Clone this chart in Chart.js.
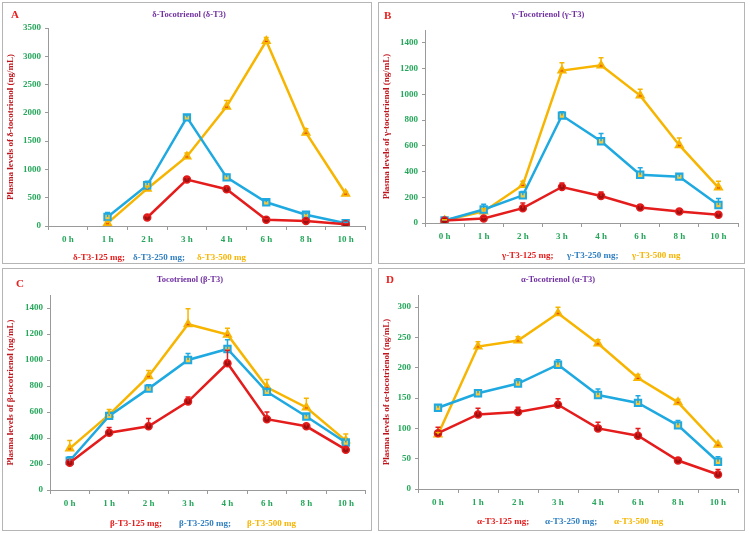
<!DOCTYPE html>
<html>
<head>
<meta charset="utf-8">
<script src="https://cdn.jsdelivr.net/npm/chart.js@4.4.0/dist/chart.umd.min.js"></script>
<style>
  body { margin: 0; background: #fff; }
  #wrap { position: relative; width: 750px; height: 533px; overflow: hidden; font-family: "Liberation Serif", "Times New Roman", serif; font-weight: bold; }
  .panel { position: absolute; border: 1px solid #b5b5b5; box-sizing: border-box; }
  canvas { position: absolute; }
  .txt { position: absolute; white-space: nowrap; font-size: 9px; line-height: 11px; transform: translateY(-50%); }
  .ctr { transform: translate(-50%, -50%); }
  .title { color: #7030a0; font-size: 8.5px; }
  .letter { color: #e8201e; font-size: 11px; }
</style>
</head>
<body>
<div id="wrap"></div>
<script>
// time points
const hours = ["0 h", "1 h", "2 h", "3 h", "4 h", "6 h", "8 h", "10 h"];

// A: delta-T3
const deltaLow = [null, null, 150, 820, 650, 110, 90, 30];
const deltaMid = [null, 160, 720, 1920, 860, 420, 200, 50];
const deltaHigh = [null, 50, 660, 1230, 2110, 3270, 1650, 570];
const deltaLowErr = [null, null, 30, 40, 50, 20, 15, 10];
const deltaMidErr = [null, 80, 70, 40, 50, 30, 30, 15];
const deltaHighErr = [null, 30, 40, 60, 110, 60, 70, 40];

// B: gamma-T3
const gammaLow = [20, 35, 115, 280, 210, 120, 90, 65];
const gammaMid = [20, 105, 215, 835, 635, 375, 360, 140];
const gammaHigh = [20, 90, 295, 1185, 1225, 990, 605, 275];
const gammaLowErr = [5, 10, 40, 30, 30, 20, 15, 15];
const gammaMidErr = [5, 40, 30, 30, 60, 55, 20, 50];
const gammaHighErr = [5, 20, 30, 60, 60, 50, 55, 50];

// C: beta-T3
const betaLow = [210, 440, 490, 680, 975, 545, 490, 310];
const betaMid = [225, 570, 780, 1000, 1085, 755, 565, 365];
const betaHigh = [320, 580, 875, 1275, 1195, 790, 635, 380];
const betaLowErr = [20, 40, 60, 35, 100, 55, 20, 15];
const betaMidErr = [30, 20, 30, 50, 70, 20, 20, 20];
const betaHighErr = [60, 40, 45, 120, 50, 60, 70, 50];

// D: alpha-T3
const alphaLow = [92, 123, 127, 139, 100, 88, 47, 24];
const alphaMid = [134, 158, 174, 205, 155, 142, 105, 45];
const alphaHigh = [90, 235, 245, 290, 240, 183, 143, 73];
const alphaLowErr = [10, 10, 8, 10, 10, 12, 3, 8];
const alphaMidErr = [5, 5, 8, 8, 10, 12, 8, 8];
const alphaHighErr = [3, 8, 6, 10, 6, 6, 5, 3];

const RED = "#e51c1c", BLUE = "#1fa9e1", GOLD = "#f7b500";
const FONT = "'Liberation Serif', 'Times New Roman', serif";

// upward error bars with caps
const errorBars = {
  id: "errorBars",
  afterDatasetsDraw(chart) {
    const ctx = chart.ctx;
    const yScale = chart.scales.y;
    chart.data.datasets.forEach((ds, i) => {
      const meta = chart.getDatasetMeta(i);
      ctx.save();
      ctx.strokeStyle = ds.borderColor;
      ctx.lineWidth = 1.5;
      meta.data.forEach((pt, j) => {
        const v = ds.data[j], e = ds.errs[j];
        if (v == null || e == null) return;
        const top = yScale.getPixelForValue(v + e);
        ctx.beginPath();
        ctx.moveTo(pt.x, pt.y);
        ctx.lineTo(pt.x, top);
        ctx.moveTo(pt.x - 2.5, top);
        ctx.lineTo(pt.x + 2.5, top);
        ctx.stroke();
      });
      ctx.restore();
    });
  }
};

const panels = [
  { box: [2, 2, 372, 264], area: [48, 28, 371, 226], max: 3500, step: 500,
    letter: ["A", 15, 14], title: ["δ-Tocotrienol (δ-T3)", 189, 14],
    yTitle: "Plasma levels of δ-tocotrienol (ng/mL)",
    legend: [["δ-T3-125 mg;", 73], ["δ-T3-250 mg;", 133], ["δ-T3-500 mg", 197]], legendY: 257,
    low: [deltaLow, deltaLowErr], mid: [deltaMid, deltaMidErr], high: [deltaHigh, deltaHighErr] },
  { box: [378, 2, 745, 264], area: [425, 30, 738, 223], max: 1500, step: 200,
    letter: ["B", 388, 15], title: ["γ-Tocotrienol (γ-T3)", 548, 14],
    yTitle: "Plasma levels of γ-tocotrienol (ng/mL)",
    legend: [["γ-T3-125 mg;", 502], ["γ-T3-250 mg;", 567], ["γ-T3-500 mg", 632]], legendY: 255,
    low: [gammaLow, gammaLowErr], mid: [gammaMid, gammaMidErr], high: [gammaHigh, gammaHighErr] },
  { box: [2, 268, 372, 531], area: [50, 295, 367, 490], max: 1500, step: 200,
    letter: ["C", 20, 283], title: ["Tocotrienol (β-T3)", 190, 279],
    yTitle: "Plasma levels of β-tocotrienol (ng/mL)",
    legend: [["β-T3-125 mg;", 110], ["β-T3-250 mg;", 179], ["β-T3-500 mg", 247]], legendY: 523,
    low: [betaLow, betaLowErr], mid: [betaMid, betaMidErr], high: [betaHigh, betaHighErr] },
  { box: [378, 268, 745, 531], area: [418, 295, 738, 489], max: 320, step: 50,
    letter: ["D", 390, 279], title: ["α-Tocotrienol (α-T3)", 558, 279],
    yTitle: "Plasma levels of α-tocotrienol (ng/mL)",
    legend: [["α-T3-125 mg;", 477], ["α-T3-250 mg;", 545], ["α-T3-500 mg", 614]], legendY: 521,
    low: [alphaLow, alphaLowErr], mid: [alphaMid, alphaMidErr], high: [alphaHigh, alphaHighErr] }
];

const wrap = document.getElementById("wrap");
const legendColors = [RED, "#2f7fc1", GOLD];

function addText(cls, text, x, y, color) {
  const el = document.createElement("div");
  el.className = "txt " + cls;
  el.textContent = text;
  el.style.left = x + "px";
  el.style.top = y + "px";
  if (color) el.style.color = color;
  wrap.appendChild(el);
}

panels.forEach(p => {
  const [bx0, by0, bx1, by1] = p.box;
  const [ax0, ay0, ax1, ay1] = p.area;

  const frame = document.createElement("div");
  frame.className = "panel";
  Object.assign(frame.style, { left: bx0 + "px", top: by0 + "px", width: (bx1 - bx0) + "px", height: (by1 - by0) + "px" });
  wrap.appendChild(frame);

  const canvas = document.createElement("canvas");
  const w = bx1 - bx0, h = by1 - by0;
  canvas.width = w; canvas.height = h;
  Object.assign(canvas.style, { left: bx0 + "px", top: by0 + "px", width: w + "px", height: h + "px" });
  wrap.appendChild(canvas);

  new Chart(canvas, {
    type: "line",
    data: {
      labels: hours,
      datasets: [
        { data: p.low[0], errs: p.low[1], borderColor: RED, backgroundColor: "#9e0f0f",
          pointStyle: "circle", pointRadius: 3.5, pointBorderWidth: 1.5, pointBorderColor: RED, borderWidth: 2.5 },
        { data: p.mid[0], errs: p.mid[1], borderColor: BLUE, backgroundColor: "#f5c842",
          pointStyle: "rect", pointRadius: 4.5, pointBorderWidth: 2, pointBorderColor: BLUE, borderWidth: 2.5 },
        { data: p.high[0], errs: p.high[1], borderColor: GOLD, backgroundColor: "#e0401a",
          pointStyle: "triangle", pointRadius: 4, pointBorderWidth: 2, pointBorderColor: GOLD, borderWidth: 2.5 }
      ]
    },
    options: {
      responsive: false,
      animation: false,
      events: [],
      layout: { padding: { top: ay0 - by0, right: bx1 - ax1, left: 0, bottom: 0 } },
      plugins: { legend: { display: false }, tooltip: { enabled: false } },
      scales: {
        x: {
          offset: true,
          afterFit: s => { s.height = by1 - ay1; },
          grid: { offset: true, drawOnChartArea: false, tickLength: 4, color: "#9a9a9a" },
          border: { color: "#9a9a9a", width: 1 },
          ticks: { color: "#26a65b", font: { family: FONT, size: 9, weight: "bold" }, padding: 4 }
        },
        y: {
          min: 0, max: p.max,
          afterFit: s => { s.width = ax0 - bx0; },
          afterBuildTicks: s => { s.ticks = s.ticks.filter(t => t.value % p.step === 0); },
          grid: { drawOnChartArea: false, tickLength: 3, color: "#9a9a9a" },
          border: { color: "#9a9a9a", width: 1 },
          ticks: { stepSize: p.step, callback: v => String(v), color: "#26a65b", font: { family: FONT, size: 9, weight: "bold" }, padding: 4 },
          title: { display: true, text: p.yTitle, color: "#c0141c", font: { family: FONT, size: 9, weight: "bold" }, padding: { top: 3, bottom: 0 } }
        }
      }
    },
    plugins: [errorBars]
  });

  addText("letter", p.letter[0], p.letter[1] - 4, p.letter[2]);
  addText("title ctr", p.title[0], p.title[1], p.title[2]);
  p.legend.forEach((l, i) => addText("", l[0], l[1], p.legendY, legendColors[i]));
});
</script>
</body>
</html>
